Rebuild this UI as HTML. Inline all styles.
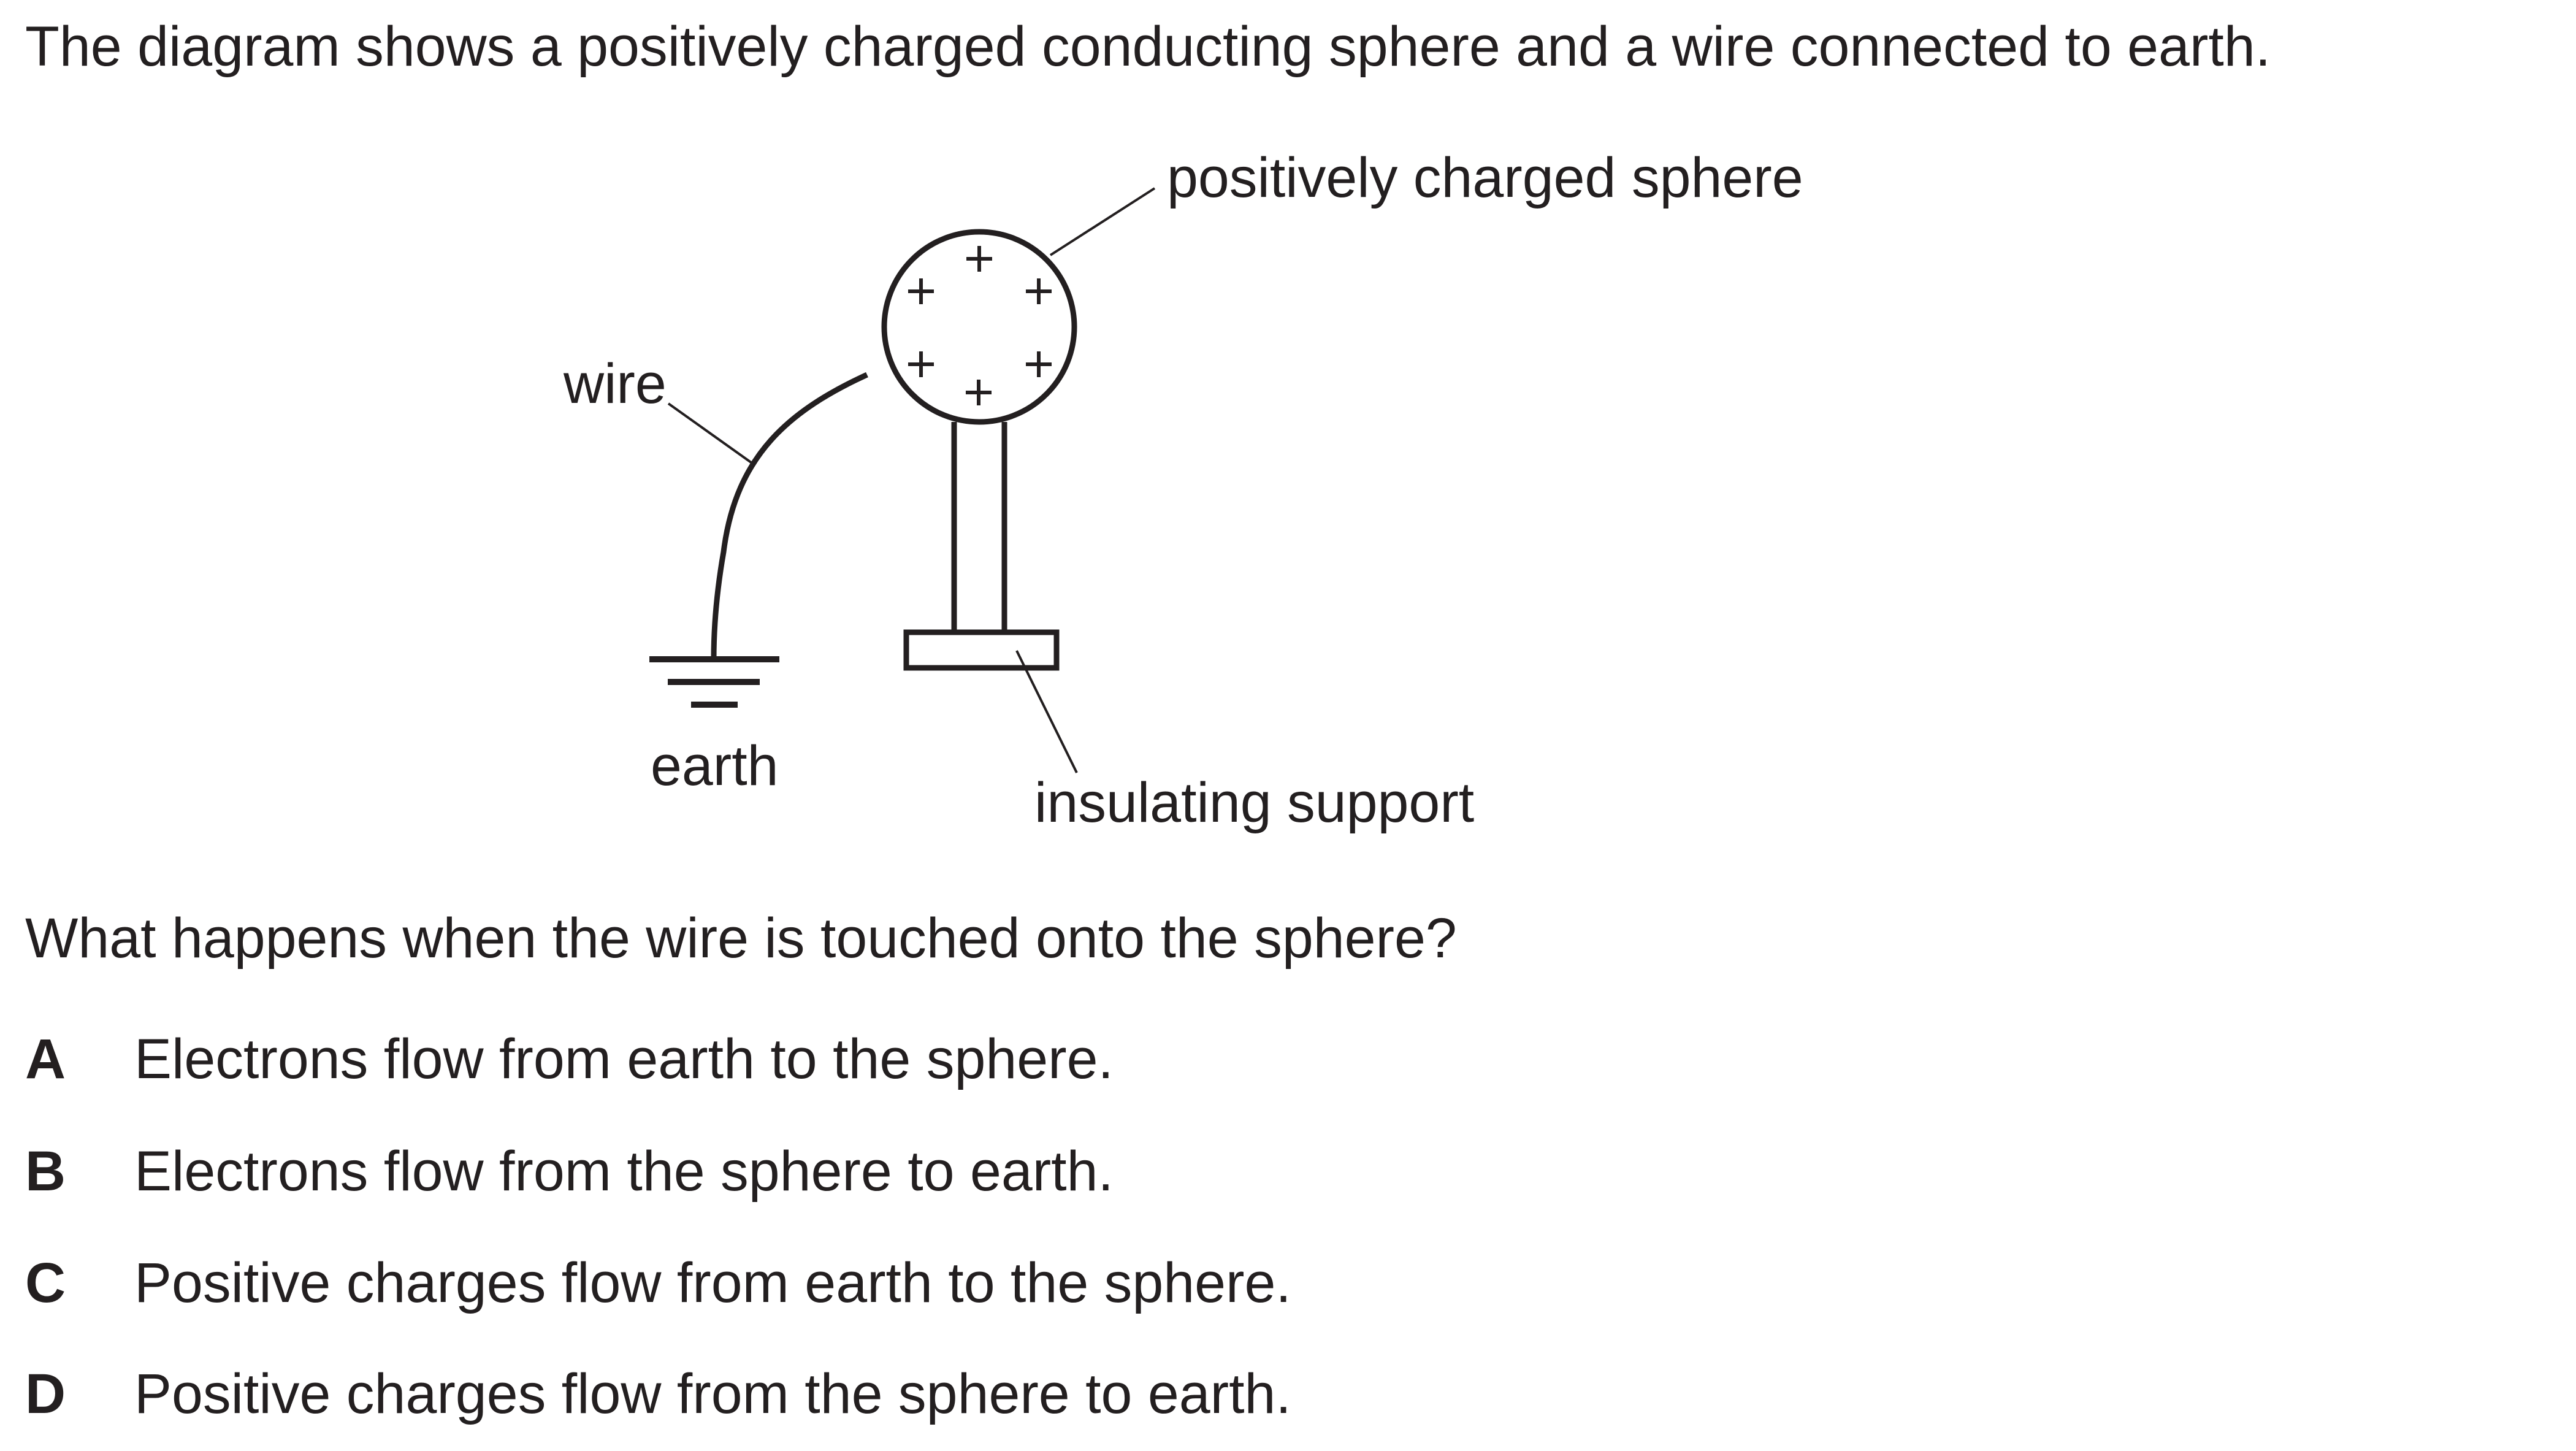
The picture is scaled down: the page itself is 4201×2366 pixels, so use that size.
<!DOCTYPE html>
<html><head><meta charset="utf-8"><style>
html,body{margin:0;padding:0;background:#fff;}
body{width:4201px;height:2366px;position:relative;overflow:hidden;font-family:"Liberation Sans",Arial,sans-serif;color:#231f20;}
.t{position:absolute;font-size:91.5px;line-height:1;white-space:nowrap;}
.b{font-weight:bold;}
</style></head><body>
<div class="t" style="left:41px;top:31px;">The diagram shows a positively charged conducting sphere and a wire connected to earth.</div>
<svg width="4201" height="2366" style="position:absolute;left:0;top:0" xmlns="http://www.w3.org/2000/svg">
<g fill="none" stroke="#231f20">
<circle cx="1597" cy="533" r="155" stroke-width="9"/>
<g stroke-width="6">
<path d="M1576 422h42M1597 401v42"/>
<path d="M1481 475h42M1502 454v42"/>
<path d="M1673 475h42M1694 454v42"/>
<path d="M1481 594h42M1502 573v42"/>
<path d="M1673 594h42M1694 573v42"/>
<path d="M1575 640h42M1596 619v42"/>
</g>
<path d="M1556 688V1029M1638 688V1029" stroke-width="9"/>
<rect x="1478" y="1031" width="245" height="58" stroke-width="9"/>
<path d="M1414 611 C1290 668 1200 740 1180 900 C1166 980 1164 1040 1164 1075" stroke-width="9"/>
<path d="M1059 1075H1271M1089 1112H1239M1127 1149H1203" stroke-width="10"/>
<path d="M1090 658L1229 757" stroke-width="4"/>
<path d="M1713 416L1883 307" stroke-width="4"/>
<path d="M1658 1061L1756 1260" stroke-width="4"/>
</g>
</svg>
<div class="t" style="left:1903px;top:245px;">positively charged sphere</div>
<div class="t" style="left:919px;top:581px;">wire</div>
<div class="t" style="left:1061px;top:1204px;">earth</div>
<div class="t" style="left:1687px;top:1264px;">insulating support</div>
<div class="t" style="left:41px;top:1485px;">What happens when the wire is touched onto the sphere?</div>
<div class="t b" style="left:41px;top:1682px;">A</div>
<div class="t" style="left:219px;top:1682px;">Electrons flow from earth to the sphere.</div>
<div class="t b" style="left:41px;top:1865px;">B</div>
<div class="t" style="left:219px;top:1865px;">Electrons flow from the sphere to earth.</div>
<div class="t b" style="left:41px;top:2047px;">C</div>
<div class="t" style="left:219px;top:2047px;">Positive charges flow from earth to the sphere.</div>
<div class="t b" style="left:41px;top:2228px;">D</div>
<div class="t" style="left:219px;top:2228px;">Positive charges flow from the sphere to earth.</div>
</body></html>
